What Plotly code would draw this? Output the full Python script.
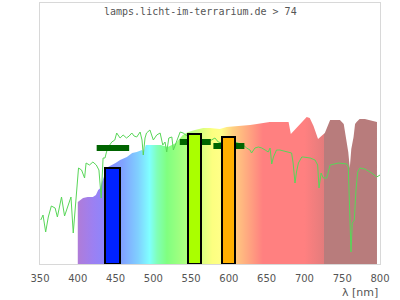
import plotly.graph_objects as go

# ---- data ----
sun_nm = [351, 354, 357.5, 361, 365, 370, 373, 378.5, 382.5, 387, 391, 394, 396, 399, 401, 405, 409, 411,
          415.5, 420, 424.5, 428, 431, 433.5, 436, 438, 440.5, 445, 449, 451.5, 456, 460, 464.5, 468, 471.5,
          474.5, 478, 482.5, 485, 486.7, 489, 491, 495.5, 500, 504.5, 509, 512.5, 515.5, 517.7, 520.5, 524.5,
          526.5, 531, 533, 535.5, 539.5, 543, 555, 568, 577, 581.5, 586, 591, 608, 619, 623.5, 628, 630, 634.5,
          639, 643.5, 648, 652, 654.5, 656.7, 659, 663, 667.5, 676.5, 683, 685, 687.5, 689.5, 692, 696.5, 698.5,
          707.5, 714, 717.5, 719.3, 722, 725, 729.5, 731.5, 734, 745, 756, 758, 759.4, 761.6, 763.3, 766, 768.2,
          770.5, 773.5, 780, 789, 795.6, 800]
sun_val = [44, 49, 32, 47, 58, 56, 47, 67, 48, 57, 67, 31, 52, 78, 96, 94, 86, 101, 99, 102, 99, 94, 66, 106,
           106, 112, 117, 122, 124, 131, 126, 129, 126, 128, 131, 128, 127, 132, 124, 109, 126, 131, 134, 124,
           129, 131, 119, 122, 112, 126, 127, 114, 124, 127, 132, 131, 129, 126, 124, 124, 126, 122, 121, 122,
           119, 116, 114, 111, 116, 117, 116, 114, 112, 116, 100, 107, 114, 114, 112, 111, 101, 81, 92, 101,
           107, 107, 106, 104, 99, 76, 91, 86, 86, 91, 99, 101, 100, 97, 57, 12, 41, 44, 74, 92, 96, 95, 91, 87, 89]

spec_nm = [400, 407, 413, 420, 424, 427, 430, 432, 436, 440, 450, 456, 465, 472, 478, 485, 487, 490, 499, 510,
           519, 530, 539, 546, 555, 566, 575, 588, 597, 615, 628, 637, 654, 668, 679, 682, 687, 690, 697, 703,
           707, 712, 718, 722, 727, 734, 747, 752, 756, 758, 760, 762, 765, 767, 769, 773, 780, 790, 796]
spec_val = [62, 66, 67, 67, 69, 74, 76, 82, 90, 97, 101, 104, 107, 111, 112, 114, 112, 119, 119, 119,
            117, 121, 129, 132, 134, 136, 136, 135, 137, 138, 139, 140, 142, 142, 142, 130, 134, 137, 143, 147,
            146, 138, 125, 128, 131, 144, 144, 140, 124, 112, 96, 115, 127, 140, 142, 145, 145, 143, 142]

led_peak = [446, 554.5, 599.5]
led_height = [96, 130, 127]
led_width = [19, 18, 18]

seg_center = [446.5, 555.5, 600]
seg_halfwidth = [21.5, 20.5, 20.5]
seg_level = [116, 122, 118]

x_ticks = [350, 400, 450, 500, 550, 600, 650, 700, 750, 800]
title_text = "lamps.licht-im-terrarium.de > 74"
x_label = "λ [nm]"

# ---- styles ----
led_colors = ["#0022ff", "#aaff00", "#ffb000"]
s0, s1 = spec_nm[0], spec_nm[-1]
def pos(nm):
    return (nm - s0) / (s1 - s0)
spec_scale = [
    [pos(400), "#b07cd8"], [pos(420), "#9c80f2"], [pos(440), "#8888ff"], [pos(460), "#80a4ff"],
    [pos(480), "#80d0ff"], [pos(495), "#80ffff"], [pos(505), "#80ffb8"], [pos(518), "#80ff80"],
    [pos(540), "#a8ff80"], [pos(560), "#d0ff80"], [pos(578), "#fcff80"], [pos(590), "#ffff88"],
    [pos(605), "#ffd080"], [pos(625), "#ffa880"], [pos(645), "#ff8080"], [pos(700), "#ff8080"],
    [pos(725.5), "#e47c7c"], [pos(726), "#b87c7c"], [1.0, "#b87c7c"],
]

fig = go.Figure()
fig.add_trace(go.Scatter(
    x=spec_nm, y=spec_val, mode="lines", line=dict(width=0), fill="tozeroy",
    fillgradient=dict(type="horizontal", colorscale=spec_scale, start=s0, stop=s1),
    hoverinfo="skip", showlegend=False))
fig.add_trace(go.Scatter(
    x=sun_nm, y=sun_val, mode="lines", line=dict(color="#58d658", width=1),
    hoverinfo="skip", showlegend=False))

seg_x, seg_y = [], []
for c, h, lv in zip(seg_center, seg_halfwidth, seg_level):
    seg_x += [c - h, c + h, None]
    seg_y += [lv, lv, None]
fig.add_trace(go.Scatter(x=seg_x, y=seg_y, mode="lines", line=dict(color="#006400", width=6),
                         hoverinfo="skip", showlegend=False))

fig.add_trace(go.Bar(x=led_peak, y=led_height, width=led_width, xaxis="x2", yaxis="y2",
                     marker=dict(color=led_colors, line=dict(color="black", width=2)),
                     hoverinfo="skip", showlegend=False))

xr = [350, 800]
yr = [0, 261]
fig.update_layout(
    width=400, height=300, margin=dict(l=40, r=20, t=3, b=36),
    paper_bgcolor="white", plot_bgcolor="white",
    xaxis=dict(range=xr, tickvals=x_ticks, ticktext=[str(t) for t in x_ticks], showgrid=False,
               zeroline=False, showline=True, linecolor="#d8d8d8", linewidth=1, mirror=True,
               ticks="outside", ticklen=5, tickcolor="rgba(0,0,0,0)",
               tickfont=dict(family="DejaVu Sans", size=10, color="#555555")),
    yaxis=dict(range=yr, showticklabels=False, showgrid=False, zeroline=False, showline=True,
               linecolor="#d8d8d8", linewidth=1, mirror=True, ticks=""),
    xaxis2=dict(range=xr, overlaying="x", anchor="y2", visible=False),
    yaxis2=dict(range=yr, overlaying="y", anchor="x2", visible=False),
    bargap=0,
    annotations=[
        dict(text=title_text, xref="paper", yref="paper", x=0.4735, y=(264 - 12) / 261,
             xanchor="center", yanchor="middle", showarrow=False,
             font=dict(family="DejaVu Sans Mono", size=10, color="#555555")),
        dict(text=x_label, xref="paper", yref="paper", x=1.0, y=(264 - 292.5) / 261,
             xanchor="right", yanchor="middle", showarrow=False,
             font=dict(family="DejaVu Sans", size=11, color="#555555")),
    ],
)
fig.write_html("out.html")
